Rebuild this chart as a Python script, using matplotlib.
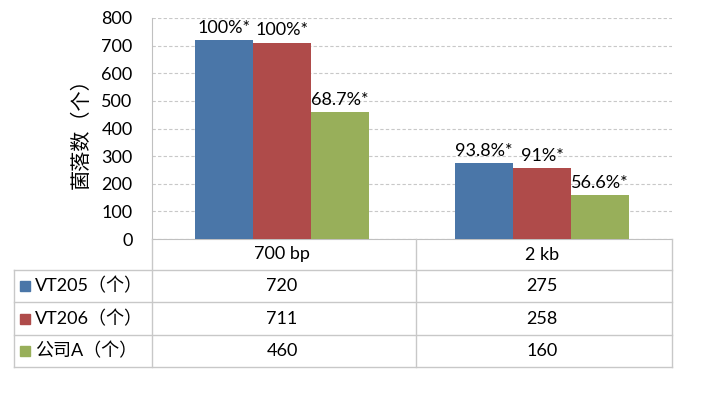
import matplotlib
matplotlib.use("Agg")
import matplotlib.pyplot as plt
from matplotlib.lines import Line2D
from matplotlib.patches import Rectangle
import matplotlib.transforms as mtransforms
import numpy as np

plt.rcParams['font.family'] = ['Lato', 'Noto Sans CJK SC', 'DejaVu Sans']

categories = ["700 bp", "2 kb"]
series_names = ["VT205（个）", "VT206（个）", "公司A（个）"]
vt205 = [720, 275]
vt206 = [711, 258]
company_a = [460, 160]
labels_vt205 = ["100%*", "93.8%*"]
labels_vt206 = ["100%*", "91%*"]
labels_company_a = ["68.7%*", "56.6%*"]
y_ticks = [0, 100, 200, 300, 400, 500, 600, 700, 800]
y_label = "菌落数（个）"

series = [vt205, vt206, company_a]
series_labels = [labels_vt205, labels_vt206, labels_company_a]
colors = ["#4A76A8", "#AF4B4A", "#98AF5A"]

W, H = 707, 397
fig = plt.figure(figsize=(W / 100, H / 100), dpi=100)

def fx(px):
    return px / W

def fy(py):
    return 1 - py / H

ax_left, ax_right, ax_top, ax_bottom = 152, 672, 18, 239
ax = fig.add_axes([fx(ax_left), fy(ax_bottom), fx(ax_right - ax_left), (ax_bottom - ax_top) / H])

x = np.arange(len(categories))
bw = 0.223
fs = 13
for i, (vals, labs, c) in enumerate(zip(series, series_labels, colors)):
    pos = x + (i - 1) * bw
    bars = ax.bar(pos, vals, width=bw, color=c, zorder=3)
    for b, lab in zip(bars, labs):
        ax.annotate(lab, (b.get_x() + b.get_width() / 2, b.get_height()),
                    xytext=(0, 3), textcoords="offset points",
                    ha="center", va="bottom", fontsize=fs, color="black")

ax.set_xlim(-0.5, len(categories) - 0.5)
ax.set_ylim(0, 800)
ax.set_yticks(y_ticks)
ax.set_yticklabels([str(t) for t in y_ticks], fontsize=fs)
ax.set_xticks([])
ax.tick_params(axis='y', length=0, pad=14)
ax.yaxis.grid(True, linestyle=(0, (3, 2)), color="#C8C8C8", linewidth=0.8, zorder=0)
for s in ["top", "right"]:
    ax.spines[s].set_visible(False)
ax.spines["left"].set_color("#C0C0C0")
ax.spines["bottom"].set_color("#C0C0C0")
ax.set_ylabel(y_label, fontsize=14.5, labelpad=8)

# Data table
line_color = "#C8C8C8"
tbl_left = 14
col_edges = [152, 416, 672]
row_edges = [239, 270, 302, 335, 367]

def hline(y, x0, x1):
    fig.add_artist(Line2D([fx(x0), fx(x1)], [fy(y), fy(y)], color=line_color, linewidth=1.0))

def vline(xp, y0, y1):
    fig.add_artist(Line2D([fx(xp), fx(xp)], [fy(y0), fy(y1)], color=line_color, linewidth=1.0))

for r in row_edges[1:]:
    hline(r, tbl_left, col_edges[-1])
vline(tbl_left, row_edges[1], row_edges[-1])
for c in col_edges:
    vline(c, row_edges[0], row_edges[-1])

blend = mtransforms.blended_transform_factory(ax.transData, fig.transFigure)
for j, cat in enumerate(categories):
    ymid = (row_edges[0] + row_edges[1]) / 2
    fig.text(x[j], fy(ymid), cat, transform=blend, ha="center", va="center", fontsize=fs)
    for i, vals in enumerate(series):
        ymid = (row_edges[i + 1] + row_edges[i + 2]) / 2
        fig.text(x[j], fy(ymid), str(vals[j]), transform=blend, ha="center", va="center", fontsize=fs)

for i, (name, c) in enumerate(zip(series_names, colors)):
    ymid = (row_edges[i + 1] + row_edges[i + 2]) / 2
    fig.add_artist(Rectangle((fx(20), fy(ymid + 5)), fx(10), 10 / H, color=c, transform=fig.transFigure))
    fig.text(fx(35), fy(ymid), name, ha="left", va="center", fontsize=fs)

fig.savefig("out.png", dpi=100)
